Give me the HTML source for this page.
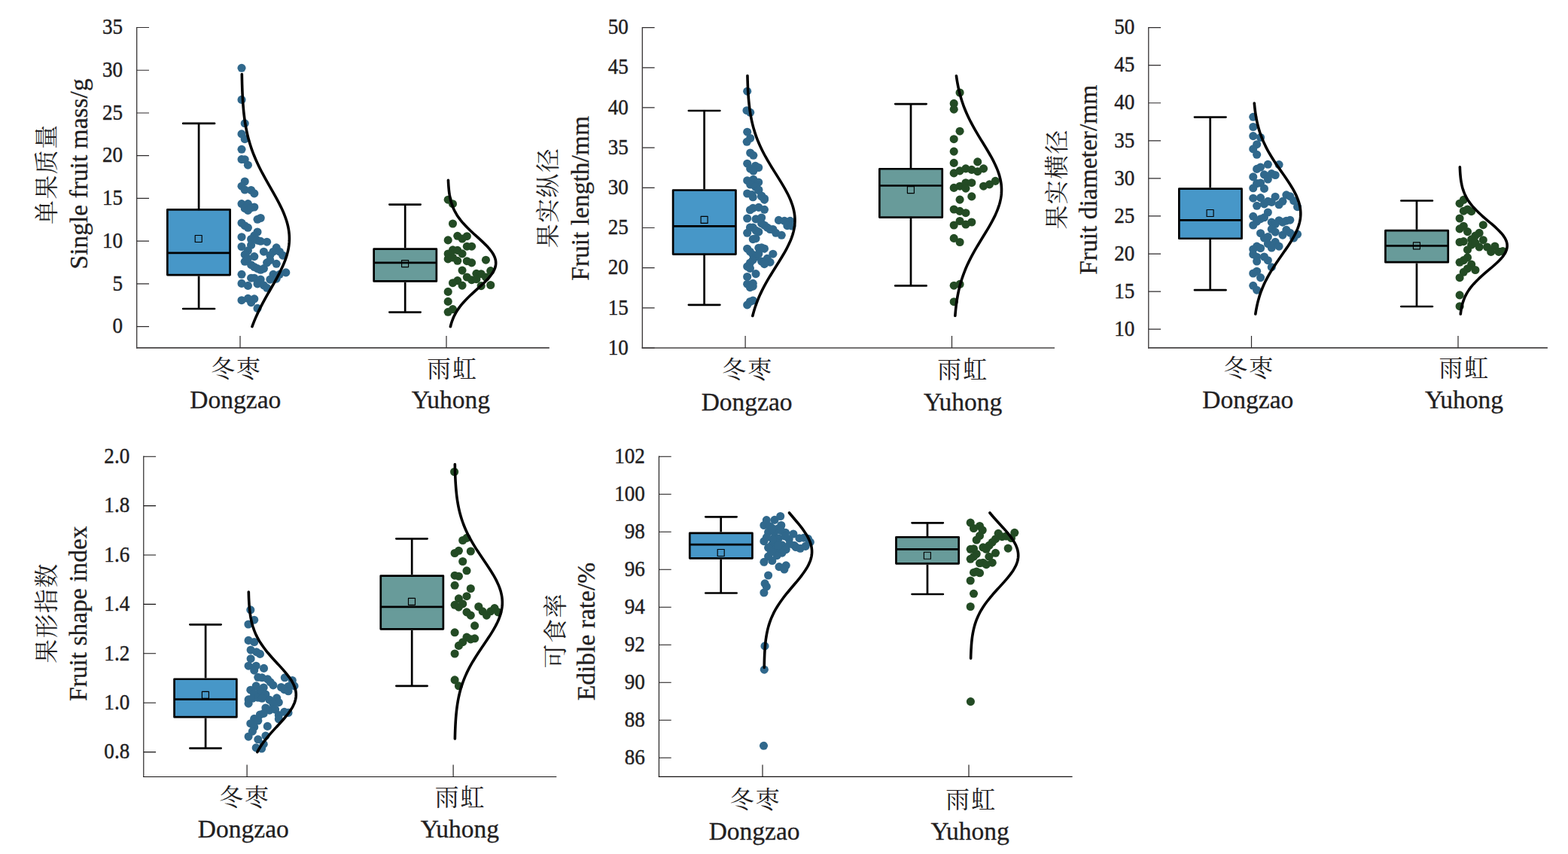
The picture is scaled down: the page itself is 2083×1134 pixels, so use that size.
<!DOCTYPE html>
<html><head><meta charset="utf-8"><title>chart</title>
<style>html,body{margin:0;padding:0;background:#fff}svg{display:block}text{font-family:"Liberation Serif","Noto Serif CJK SC",serif;fill:#221e1f}</style></head><body>
<svg width="2083" height="1134" viewBox="0 0 2083 1134">
<rect width="2083" height="1134" fill="#fff"/>
<g>
<path d="M181.7 35.9V462.7" fill="none" stroke="#2e2b2c" stroke-width="1.25"/>
<path d="M181.07 461.9H729.8" fill="none" stroke="#474445" stroke-width="1.6"/>
<path d="M181.7 433.6h16.3M181.7 376.88h16.3M181.7 320.15h16.3M181.7 263.43h16.3M181.7 206.7h16.3M181.7 149.98h16.3M181.7 93.25h16.3M181.7 36.52h16.3M319 461.9v-16M593 461.9v-16" fill="none" stroke="#2e2b2c" stroke-width="1.2"/>
<text transform="translate(163.1 442.3) scale(0.915 1)" font-size="29.6" text-anchor="end" stroke="#221e1f" stroke-width="0.45">0</text>
<text transform="translate(163.1 385.57) scale(0.915 1)" font-size="29.6" text-anchor="end" stroke="#221e1f" stroke-width="0.45">5</text>
<text transform="translate(163.1 328.85) scale(0.915 1)" font-size="29.6" text-anchor="end" stroke="#221e1f" stroke-width="0.45">10</text>
<text transform="translate(163.1 272.12) scale(0.915 1)" font-size="29.6" text-anchor="end" stroke="#221e1f" stroke-width="0.45">15</text>
<text transform="translate(163.1 215.4) scale(0.915 1)" font-size="29.6" text-anchor="end" stroke="#221e1f" stroke-width="0.45">20</text>
<text transform="translate(163.1 158.68) scale(0.915 1)" font-size="29.6" text-anchor="end" stroke="#221e1f" stroke-width="0.45">25</text>
<text transform="translate(163.1 101.95) scale(0.915 1)" font-size="29.6" text-anchor="end" stroke="#221e1f" stroke-width="0.45">30</text>
<text transform="translate(163.1 45.22) scale(0.915 1)" font-size="29.6" text-anchor="end" stroke="#221e1f" stroke-width="0.45">35</text>
<text transform="translate(61 232) rotate(-90)" x="-66" y="12.28" font-size="31.8" letter-spacing="1.6">单果质量</text>
<text transform="translate(115.6 230.9) rotate(-90)" font-size="33.5" text-anchor="middle" stroke="#221e1f" stroke-width="0.3">Single fruit mass/g</text>
<text x="280.15" y="500.57" font-size="31.8" letter-spacing="2.1">冬枣</text>
<text x="312.8" y="541.8" font-size="33.5" text-anchor="middle" stroke="#221e1f" stroke-width="0.3">Dongzao</text>
<text x="567.15" y="500.57" font-size="31.8" letter-spacing="2.1">雨虹</text>
<text x="598.8" y="541.8" font-size="33.5" text-anchor="middle" stroke="#221e1f" stroke-width="0.3">Yuhong</text>
<path d="M264.1 163.9V277M264.1 366.45V410" stroke="#000" stroke-width="2.7" fill="none"/>
<path d="M243.15 163.9H285.05M243.15 410H285.05" stroke="#000" stroke-width="2.7" stroke-linecap="round" fill="none"/>
<rect x="222.35" y="278.35" width="83.25" height="86.75" fill="#4797C8" stroke="#000" stroke-width="2.7" stroke-linejoin="round"/>
<path d="M222.35 335.9H305.6" stroke="#000" stroke-width="2.7"/>
<rect x="259.2" y="312.5" width="9" height="9" fill="none" stroke="#000" stroke-width="1.15" stroke-linejoin="round"/>
<path d="M538.2 271.6V329.2M538.2 374.8V414.6" stroke="#000" stroke-width="2.7" fill="none"/>
<path d="M517.35 271.6H558.65M517.35 414.6H558.65" stroke="#000" stroke-width="2.7" stroke-linecap="round" fill="none"/>
<rect x="496.65" y="330.55" width="83.2" height="42.9" fill="#689B9A" stroke="#000" stroke-width="2.7" stroke-linejoin="round"/>
<path d="M496.65 348.8H579.85" stroke="#000" stroke-width="2.7"/>
<rect x="533.6" y="345.6" width="9" height="9" fill="none" stroke="#000" stroke-width="1.15" stroke-linejoin="round"/>
<g fill="#30688C"><circle cx="321" cy="90.3" r="5.55"/><circle cx="321" cy="132.4" r="5.55"/><circle cx="325.2" cy="163.8" r="5.55"/><circle cx="321" cy="177.9" r="5.55"/><circle cx="325.2" cy="184.6" r="5.55"/><circle cx="321" cy="198.3" r="5.55"/><circle cx="321" cy="211.6" r="5.55"/><circle cx="325.2" cy="211.7" r="5.55"/><circle cx="329.4" cy="219.2" r="5.55"/><circle cx="325.2" cy="241" r="5.55"/><circle cx="321" cy="247.2" r="5.55"/><circle cx="325.2" cy="252" r="5.55"/><circle cx="333.6" cy="252.5" r="5.55"/><circle cx="337.8" cy="256.9" r="5.55"/><circle cx="321" cy="270.6" r="5.55"/><circle cx="329.4" cy="270.6" r="5.55"/><circle cx="325.2" cy="276.7" r="5.55"/><circle cx="329.4" cy="279.4" r="5.55"/><circle cx="337.8" cy="275" r="5.55"/><circle cx="333.6" cy="275.9" r="5.55"/><circle cx="342" cy="291.3" r="5.55"/><circle cx="346.2" cy="289.5" r="5.55"/><circle cx="321" cy="296.1" r="5.55"/><circle cx="325.2" cy="299.7" r="5.55"/><circle cx="329.4" cy="302.3" r="5.55"/><circle cx="321" cy="314.7" r="5.55"/><circle cx="342" cy="308" r="5.55"/><circle cx="337.8" cy="312.9" r="5.55"/><circle cx="333.6" cy="317.5" r="5.55"/><circle cx="342" cy="319.1" r="5.55"/><circle cx="346.2" cy="320.3" r="5.55"/><circle cx="354.6" cy="321.2" r="5.55"/><circle cx="321" cy="327.5" r="5.55"/><circle cx="333.6" cy="325.4" r="5.55"/><circle cx="329.4" cy="332.8" r="5.55"/><circle cx="325.2" cy="338.1" r="5.55"/><circle cx="337.8" cy="340.6" r="5.55"/><circle cx="350.4" cy="334.2" r="5.55"/><circle cx="367.2" cy="328.9" r="5.55"/><circle cx="363" cy="334.2" r="5.55"/><circle cx="371.4" cy="334.2" r="5.55"/><circle cx="375.6" cy="339.1" r="5.55"/><circle cx="358.8" cy="339.1" r="5.55"/><circle cx="325.2" cy="347.3" r="5.55"/><circle cx="333.6" cy="351.7" r="5.55"/><circle cx="337.8" cy="354.5" r="5.55"/><circle cx="342" cy="356.6" r="5.55"/><circle cx="346.2" cy="358.3" r="5.55"/><circle cx="350.4" cy="356.6" r="5.55"/><circle cx="354.6" cy="348.8" r="5.55"/><circle cx="358.8" cy="345.4" r="5.55"/><circle cx="367.2" cy="350.3" r="5.55"/><circle cx="321" cy="364.3" r="5.55"/><circle cx="379.8" cy="361.9" r="5.55"/><circle cx="363" cy="364.3" r="5.55"/><circle cx="371.4" cy="364.3" r="5.55"/><circle cx="367.2" cy="370.1" r="5.55"/><circle cx="358.8" cy="371.1" r="5.55"/><circle cx="321" cy="376.4" r="5.55"/><circle cx="329.4" cy="379.4" r="5.55"/><circle cx="333.6" cy="369.2" r="5.55"/><circle cx="337.8" cy="369.2" r="5.55"/><circle cx="346.2" cy="371.1" r="5.55"/><circle cx="342" cy="376.9" r="5.55"/><circle cx="350.4" cy="378.9" r="5.55"/><circle cx="354.6" cy="382.3" r="5.55"/><circle cx="321" cy="398.7" r="5.55"/><circle cx="329.4" cy="396.3" r="5.55"/><circle cx="333.6" cy="401.7" r="5.55"/><circle cx="337.8" cy="396.8" r="5.55"/><circle cx="342" cy="409.4" r="5.55"/><circle cx="329.4" cy="343.2" r="5.55"/></g>
<path d="M321.33 98.6L321.36 100.59L321.4 102.59L321.44 104.58L321.48 106.58L321.52 108.57L321.57 110.56L321.63 112.56L321.69 114.55L321.75 116.55L321.82 118.54L321.89 120.53L321.98 122.53L322.06 124.52L322.16 126.52L322.26 128.51L322.36 130.5L322.48 132.5L322.61 134.49L322.74 136.49L322.88 138.48L323.04 140.47L323.2 142.47L323.37 144.46L323.56 146.46L323.76 148.45L323.97 150.45L324.2 152.44L324.44 154.43L324.69 156.43L324.96 158.42L325.24 160.42L325.54 162.41L325.86 164.4L326.2 166.4L326.55 168.39L326.92 170.39L327.32 172.38L327.73 174.37L328.16 176.37L328.62 178.36L329.09 180.36L329.59 182.35L330.11 184.34L330.66 186.34L331.23 188.33L331.82 190.33L332.43 192.32L333.07 194.31L333.74 196.31L334.43 198.3L335.14 200.3L335.88 202.29L336.65 204.28L337.44 206.28L338.25 208.27L339.09 210.27L339.95 212.26L340.83 214.25L341.74 216.25L342.67 218.24L343.63 220.24L344.6 222.23L345.6 224.22L346.61 226.22L347.64 228.21L348.69 230.21L349.76 232.2L350.84 234.2L351.93 236.19L353.04 238.18L354.15 240.18L355.28 242.17L356.41 244.17L357.54 246.16L358.68 248.15L359.82 250.15L360.96 252.14L362.1 254.14L363.24 256.13L364.36 258.12L365.48 260.12L366.58 262.11L367.67 264.11L368.75 266.1L369.81 268.09L370.84 270.09L371.86 272.08L372.85 274.08L373.81 276.07L374.74 278.06L375.64 280.06L376.51 282.05L377.34 284.05L378.13 286.04L378.89 288.03L379.6 290.03L380.27 292.02L380.89 294.02L381.47 296.01L381.99 298L382.47 300L382.9 301.99L383.28 303.99L383.6 305.98L383.87 307.98L384.08 309.97L384.24 311.96L384.35 313.96L384.4 315.95L384.39 317.95L384.33 319.94L384.21 321.93L384.03 323.93L383.81 325.92L383.52 327.92L383.19 329.91L382.8 331.9L382.36 333.9L381.87 335.89L381.33 337.89L380.74 339.88L380.1 341.87L379.42 343.87L378.7 345.86L377.94 347.86L377.14 349.85L376.3 351.84L375.42 353.84L374.51 355.83L373.57 357.83L372.6 359.82L371.61 361.81L370.59 363.81L369.55 365.8L368.48 367.8L367.4 369.79L366.31 371.78L365.2 373.78L364.08 375.77L362.95 377.77L361.82 379.76L360.68 381.75L359.54 383.75L358.4 385.74L357.26 387.74L356.13 389.73L355 391.73L353.87 393.72L352.76 395.71L351.66 397.71L350.57 399.7L349.49 401.7L348.43 403.69L347.38 405.68L346.36 407.68L345.35 409.67L344.36 411.67L343.39 413.66L342.44 415.65L341.52 417.65L340.61 419.64L339.73 421.64L338.88 423.63L338.04 425.62L337.24 427.62L336.45 429.61L335.7 431.61L334.96 433.6" fill="none" stroke="#000" stroke-width="3.6" stroke-linecap="round" stroke-linejoin="round"/>
<g fill="#234B24"><circle cx="595.2" cy="265.2" r="5.55"/><circle cx="601.48" cy="270.7" r="5.55"/><circle cx="601.48" cy="297" r="5.55"/><circle cx="607.76" cy="313.3" r="5.55"/><circle cx="614.04" cy="317" r="5.55"/><circle cx="620.32" cy="313.7" r="5.55"/><circle cx="595.2" cy="318.9" r="5.55"/><circle cx="620.32" cy="327.2" r="5.55"/><circle cx="626.6" cy="327.2" r="5.55"/><circle cx="601.48" cy="331.9" r="5.55"/><circle cx="607.76" cy="332.4" r="5.55"/><circle cx="595.2" cy="337" r="5.55"/><circle cx="614.04" cy="336.9" r="5.55"/><circle cx="595.2" cy="343.9" r="5.55"/><circle cx="601.48" cy="342" r="5.55"/><circle cx="607.76" cy="346.3" r="5.55"/><circle cx="620.32" cy="346.7" r="5.55"/><circle cx="626.6" cy="348.9" r="5.55"/><circle cx="645.44" cy="345.2" r="5.55"/><circle cx="614.04" cy="359.1" r="5.55"/><circle cx="651.72" cy="359.6" r="5.55"/><circle cx="632.88" cy="363.3" r="5.55"/><circle cx="639.16" cy="363.7" r="5.55"/><circle cx="620.32" cy="368" r="5.55"/><circle cx="626.6" cy="371.7" r="5.55"/><circle cx="632.88" cy="370.7" r="5.55"/><circle cx="645.44" cy="368" r="5.55"/><circle cx="607.76" cy="372.6" r="5.55"/><circle cx="601.48" cy="375.7" r="5.55"/><circle cx="614.04" cy="379.1" r="5.55"/><circle cx="639.16" cy="379.6" r="5.55"/><circle cx="651.72" cy="378.5" r="5.55"/><circle cx="595.2" cy="387.4" r="5.55"/><circle cx="595.2" cy="400.4" r="5.55"/><circle cx="601.48" cy="410.6" r="5.55"/><circle cx="595.2" cy="414.3" r="5.55"/></g>
<path d="M595.45 239.3L595.53 241.28L595.64 243.27L595.75 245.25L595.89 247.23L596.05 249.22L596.24 251.2L596.45 253.19L596.69 255.17L596.97 257.15L597.28 259.14L597.64 261.12L598.04 263.1L598.49 265.09L599 267.07L599.56 269.06L600.19 271.04L600.88 273.02L601.65 275.01L602.49 276.99L603.41 278.97L604.42 280.96L605.51 282.94L606.68 284.92L607.95 286.91L609.31 288.89L610.76 290.88L612.31 292.86L613.94 294.84L615.66 296.83L617.46 298.81L619.34 300.79L621.3 302.78L623.32 304.76L625.39 306.74L627.52 308.73L629.68 310.71L631.86 312.7L634.06 314.68L636.25 316.66L638.42 318.65L640.56 320.63L642.66 322.61L644.69 324.6L646.63 326.58L648.48 328.57L650.22 330.55L651.83 332.53L653.3 334.52L654.62 336.5L655.77 338.48L656.74 340.47L657.52 342.45L658.11 344.43L658.5 346.42L658.68 348.4L658.66 350.39L658.44 352.37L658.01 354.35L657.38 356.34L656.56 358.32L655.56 360.3L654.37 362.29L653.03 364.27L651.53 366.26L649.89 368.24L648.13 370.22L646.26 372.21L644.3 374.19L642.25 376.17L640.15 378.16L638 380.14L635.82 382.12L633.63 384.11L631.43 386.09L629.25 388.08L627.1 390.06L624.98 392.04L622.92 394.03L620.91 396.01L618.97 397.99L617.1 399.98L615.32 401.96L613.61 403.94L612 405.93L610.47 407.91L609.04 409.9L607.7 411.88L606.45 413.86L605.29 415.85L604.21 417.83L603.23 419.81L602.32 421.8L601.49 423.78L600.74 425.77L600.06 427.75L599.45 429.73L598.89 431.72L598.4 433.7" fill="none" stroke="#000" stroke-width="3.6" stroke-linecap="round" stroke-linejoin="round"/>
</g>
<g>
<path d="M853.3 36V462.8" fill="none" stroke="#2e2b2c" stroke-width="1.25"/>
<path d="M852.67 462H1401" fill="none" stroke="#474445" stroke-width="1.6"/>
<path d="M853.3 462h16.3M853.3 408.82h16.3M853.3 355.65h16.3M853.3 302.48h16.3M853.3 249.3h16.3M853.3 196.12h16.3M853.3 142.95h16.3M853.3 89.78h16.3M853.3 36.6h16.3M990.1 462v-16M1264.5 462v-16" fill="none" stroke="#2e2b2c" stroke-width="1.2"/>
<text transform="translate(834.7 470.7) scale(0.915 1)" font-size="29.6" text-anchor="end" stroke="#221e1f" stroke-width="0.45">10</text>
<text transform="translate(834.7 417.52) scale(0.915 1)" font-size="29.6" text-anchor="end" stroke="#221e1f" stroke-width="0.45">15</text>
<text transform="translate(834.7 364.35) scale(0.915 1)" font-size="29.6" text-anchor="end" stroke="#221e1f" stroke-width="0.45">20</text>
<text transform="translate(834.7 311.18) scale(0.915 1)" font-size="29.6" text-anchor="end" stroke="#221e1f" stroke-width="0.45">25</text>
<text transform="translate(834.7 258) scale(0.915 1)" font-size="29.6" text-anchor="end" stroke="#221e1f" stroke-width="0.45">30</text>
<text transform="translate(834.7 204.82) scale(0.915 1)" font-size="29.6" text-anchor="end" stroke="#221e1f" stroke-width="0.45">35</text>
<text transform="translate(834.7 151.65) scale(0.915 1)" font-size="29.6" text-anchor="end" stroke="#221e1f" stroke-width="0.45">40</text>
<text transform="translate(834.7 98.48) scale(0.915 1)" font-size="29.6" text-anchor="end" stroke="#221e1f" stroke-width="0.45">45</text>
<text transform="translate(834.7 45.3) scale(0.915 1)" font-size="29.6" text-anchor="end" stroke="#221e1f" stroke-width="0.45">50</text>
<text transform="translate(727 263.2) rotate(-90)" x="-66" y="12.28" font-size="31.8" letter-spacing="1.6">果实纵径</text>
<text transform="translate(781.8 263.4) rotate(-90)" font-size="33.5" text-anchor="middle" stroke="#221e1f" stroke-width="0.3">Fruit length/mm</text>
<text x="959.25" y="502.47" font-size="31.8" letter-spacing="2.1">冬枣</text>
<text x="992.1" y="545.4" font-size="33.5" text-anchor="middle" stroke="#221e1f" stroke-width="0.3">Dongzao</text>
<text x="1245.25" y="502.47" font-size="31.8" letter-spacing="2.1">雨虹</text>
<text x="1279.1" y="545.4" font-size="33.5" text-anchor="middle" stroke="#221e1f" stroke-width="0.3">Yuhong</text>
<path d="M935.6 147V251.15M935.6 338.9V404.8" stroke="#000" stroke-width="2.7" fill="none"/>
<path d="M914.85 147H956.35M914.85 404.8H956.35" stroke="#000" stroke-width="2.7" stroke-linecap="round" fill="none"/>
<rect x="894.1" y="252.5" width="83.35" height="85.05" fill="#4797C8" stroke="#000" stroke-width="2.7" stroke-linejoin="round"/>
<path d="M894.1 300.3H977.45" stroke="#000" stroke-width="2.7"/>
<rect x="931.1" y="287.4" width="9" height="9" fill="none" stroke="#000" stroke-width="1.15" stroke-linejoin="round"/>
<path d="M1210 138.05V222.9M1210 289.9V379.4" stroke="#000" stroke-width="2.7" fill="none"/>
<path d="M1189.25 138.05H1230.65M1189.25 379.4H1230.65" stroke="#000" stroke-width="2.7" stroke-linecap="round" fill="none"/>
<rect x="1168.35" y="224.25" width="83.4" height="64.3" fill="#689B9A" stroke="#000" stroke-width="2.7" stroke-linejoin="round"/>
<path d="M1168.35 246.5H1251.75" stroke="#000" stroke-width="2.7"/>
<rect x="1205.4" y="247.6" width="9" height="9" fill="none" stroke="#000" stroke-width="1.15" stroke-linejoin="round"/>
<g fill="#30688C"><circle cx="992.7" cy="121.2" r="5.55"/><circle cx="992" cy="146.7" r="5.55"/><circle cx="996.7" cy="149.3" r="5.55"/><circle cx="992.7" cy="175.2" r="5.55"/><circle cx="996.7" cy="183.5" r="5.55"/><circle cx="992.2" cy="188.3" r="5.55"/><circle cx="996.7" cy="203" r="5.55"/><circle cx="1000.8" cy="206.3" r="5.55"/><circle cx="992.7" cy="217.2" r="5.55"/><circle cx="996.7" cy="224" r="5.55"/><circle cx="1003.5" cy="220.2" r="5.55"/><circle cx="1007.7" cy="222.5" r="5.55"/><circle cx="1000.8" cy="227" r="5.55"/><circle cx="992.7" cy="239.7" r="5.55"/><circle cx="1000.8" cy="238.2" r="5.55"/><circle cx="1007.7" cy="242" r="5.55"/><circle cx="996.7" cy="245" r="5.55"/><circle cx="1003.5" cy="248" r="5.55"/><circle cx="992.7" cy="257" r="5.55"/><circle cx="1007.7" cy="252.5" r="5.55"/><circle cx="999" cy="258.5" r="5.55"/><circle cx="1011.7" cy="260" r="5.55"/><circle cx="1015.5" cy="263.7" r="5.55"/><circle cx="1007.85" cy="252.1" r="5.55"/><circle cx="1000.25" cy="261.8" r="5.55"/><circle cx="1011.65" cy="260.9" r="5.55"/><circle cx="1015.45" cy="265.2" r="5.55"/><circle cx="996.45" cy="278.8" r="5.55"/><circle cx="1000.25" cy="276.4" r="5.55"/><circle cx="1007.85" cy="275.4" r="5.55"/><circle cx="1015.45" cy="278.3" r="5.55"/><circle cx="992.65" cy="290" r="5.55"/><circle cx="1004.05" cy="290.9" r="5.55"/><circle cx="1011.65" cy="289" r="5.55"/><circle cx="1034.45" cy="292.4" r="5.55"/><circle cx="1042.05" cy="293.3" r="5.55"/><circle cx="1049.65" cy="293.3" r="5.55"/><circle cx="1045.85" cy="299.7" r="5.55"/><circle cx="1051.93" cy="300" r="5.55"/><circle cx="1011.65" cy="296.7" r="5.55"/><circle cx="1015.45" cy="299.2" r="5.55"/><circle cx="1019.25" cy="302.1" r="5.55"/><circle cx="1023.05" cy="304.5" r="5.55"/><circle cx="1026.85" cy="304.5" r="5.55"/><circle cx="1030.65" cy="309.3" r="5.55"/><circle cx="1038.25" cy="312.3" r="5.55"/><circle cx="996.45" cy="302.1" r="5.55"/><circle cx="1000.25" cy="302.1" r="5.55"/><circle cx="1004.05" cy="306" r="5.55"/><circle cx="1007.85" cy="307.9" r="5.55"/><circle cx="992.65" cy="309.3" r="5.55"/><circle cx="1000.25" cy="317.6" r="5.55"/><circle cx="1004.05" cy="316.6" r="5.55"/><circle cx="992.65" cy="330.2" r="5.55"/><circle cx="996.45" cy="334.2" r="5.55"/><circle cx="1000.25" cy="338.2" r="5.55"/><circle cx="1007.85" cy="329.2" r="5.55"/><circle cx="1011.65" cy="328.7" r="5.55"/><circle cx="1015.45" cy="330.2" r="5.55"/><circle cx="1004.05" cy="340.9" r="5.55"/><circle cx="1007.85" cy="337" r="5.55"/><circle cx="1026.85" cy="337.2" r="5.55"/><circle cx="1019.25" cy="343.3" r="5.55"/><circle cx="1023.05" cy="348.2" r="5.55"/><circle cx="1011.65" cy="347" r="5.55"/><circle cx="1015.45" cy="350.6" r="5.55"/><circle cx="1000.25" cy="345.2" r="5.55"/><circle cx="996.45" cy="349.1" r="5.55"/><circle cx="992.65" cy="353.9" r="5.55"/><circle cx="996.45" cy="356.4" r="5.55"/><circle cx="1004.05" cy="363.6" r="5.55"/><circle cx="992.65" cy="367.5" r="5.55"/><circle cx="992.65" cy="377.2" r="5.55"/><circle cx="1000.25" cy="376.3" r="5.55"/><circle cx="996.45" cy="381.6" r="5.55"/><circle cx="1000.25" cy="380.1" r="5.55"/><circle cx="992.65" cy="404.9" r="5.55"/><circle cx="996.45" cy="400.5" r="5.55"/><circle cx="1000.25" cy="399" r="5.55"/></g>
<path d="M992.96 100.6L993.01 102.59L993.06 104.59L993.12 106.58L993.18 108.57L993.25 110.57L993.33 112.56L993.41 114.55L993.5 116.54L993.6 118.54L993.71 120.53L993.83 122.52L993.95 124.52L994.09 126.51L994.23 128.5L994.39 130.5L994.56 132.49L994.74 134.48L994.94 136.48L995.15 138.47L995.37 140.46L995.61 142.46L995.87 144.45L996.15 146.44L996.44 148.44L996.75 150.43L997.09 152.42L997.44 154.41L997.81 156.41L998.21 158.4L998.63 160.39L999.08 162.39L999.55 164.38L1000.04 166.37L1000.56 168.37L1001.11 170.36L1001.69 172.35L1002.29 174.35L1002.92 176.34L1003.58 178.33L1004.27 180.32L1004.99 182.32L1005.74 184.31L1006.52 186.3L1007.33 188.3L1008.17 190.29L1009.04 192.28L1009.94 194.28L1010.87 196.27L1011.83 198.26L1012.82 200.26L1013.83 202.25L1014.87 204.24L1015.94 206.24L1017.03 208.23L1018.15 210.22L1019.28 212.21L1020.44 214.21L1021.62 216.2L1022.81 218.19L1024.02 220.19L1025.25 222.18L1026.48 224.17L1027.72 226.17L1028.97 228.16L1030.23 230.15L1031.49 232.15L1032.74 234.14L1033.99 236.13L1035.24 238.13L1036.47 240.12L1037.7 242.11L1038.9 244.1L1040.09 246.1L1041.26 248.09L1042.4 250.08L1043.52 252.08L1044.6 254.07L1045.66 256.06L1046.67 258.06L1047.65 260.05L1048.58 262.04L1049.47 264.04L1050.31 266.03L1051.1 268.02L1051.84 270.02L1052.53 272.01L1053.16 274L1053.72 276L1054.23 277.99L1054.68 279.98L1055.06 281.97L1055.38 283.97L1055.64 285.96L1055.82 287.95L1055.94 289.95L1056 291.94L1055.98 293.93L1055.9 295.93L1055.75 297.92L1055.53 299.91L1055.25 301.91L1054.9 303.9L1054.49 305.89L1054.02 307.88L1053.48 309.88L1052.89 311.87L1052.23 313.86L1051.53 315.86L1050.76 317.85L1049.95 319.84L1049.09 321.84L1048.18 323.83L1047.22 325.82L1046.23 327.82L1045.2 329.81L1044.13 331.8L1043.03 333.8L1041.91 335.79L1040.75 337.78L1039.57 339.77L1038.38 341.77L1037.16 343.76L1035.93 345.75L1034.69 347.75L1033.44 349.74L1032.19 351.73L1030.93 353.73L1029.68 355.72L1028.43 357.71L1027.18 359.71L1025.94 361.7L1024.71 363.69L1023.49 365.69L1022.29 367.68L1021.1 369.67L1019.93 371.66L1018.78 373.66L1017.65 375.65L1016.55 377.64L1015.47 379.64L1014.41 381.63L1013.38 383.62L1012.38 385.62L1011.41 387.61L1010.46 389.6L1009.54 391.6L1008.66 393.59L1007.8 395.58L1006.97 397.58L1006.18 399.57L1005.41 401.56L1004.67 403.55L1003.97 405.55L1003.29 407.54L1002.64 409.53L1002.02 411.53L1001.43 413.52L1000.87 415.51L1000.33 417.51L999.82 419.5" fill="none" stroke="#000" stroke-width="3.6" stroke-linecap="round" stroke-linejoin="round"/>
<g fill="#234B24"><circle cx="1275.07" cy="123" r="5.55"/><circle cx="1267.2" cy="137.4" r="5.55"/><circle cx="1267.2" cy="145.2" r="5.55"/><circle cx="1275.07" cy="174.2" r="5.55"/><circle cx="1267.2" cy="184.7" r="5.55"/><circle cx="1267.2" cy="201.1" r="5.55"/><circle cx="1267.2" cy="216.4" r="5.55"/><circle cx="1298.68" cy="214.9" r="5.55"/><circle cx="1267.2" cy="229.9" r="5.55"/><circle cx="1275.07" cy="226.9" r="5.55"/><circle cx="1282.94" cy="223.9" r="5.55"/><circle cx="1290.81" cy="225.4" r="5.55"/><circle cx="1298.68" cy="227.7" r="5.55"/><circle cx="1306.55" cy="223.9" r="5.55"/><circle cx="1267.2" cy="249.4" r="5.55"/><circle cx="1275.07" cy="247.2" r="5.55"/><circle cx="1282.94" cy="242.7" r="5.55"/><circle cx="1290.81" cy="242.7" r="5.55"/><circle cx="1282.94" cy="250.2" r="5.55"/><circle cx="1306.55" cy="247.2" r="5.55"/><circle cx="1314.42" cy="244.9" r="5.55"/><circle cx="1322.29" cy="240.4" r="5.55"/><circle cx="1290.81" cy="260.9" r="5.55"/><circle cx="1275.07" cy="265.1" r="5.55"/><circle cx="1267.2" cy="278" r="5.55"/><circle cx="1275.07" cy="280.4" r="5.55"/><circle cx="1282.94" cy="282.7" r="5.55"/><circle cx="1275.07" cy="293.5" r="5.55"/><circle cx="1290.81" cy="295" r="5.55"/><circle cx="1282.94" cy="298" r="5.55"/><circle cx="1267.2" cy="299" r="5.55"/><circle cx="1267.2" cy="316.4" r="5.55"/><circle cx="1275.07" cy="321.5" r="5.55"/><circle cx="1267.2" cy="379.2" r="5.55"/><circle cx="1275.07" cy="377.4" r="5.55"/><circle cx="1267.2" cy="400.7" r="5.55"/></g>
<path d="M1270.46 100.7L1270.73 102.69L1271.02 104.68L1271.33 106.67L1271.66 108.67L1272.01 110.66L1272.38 112.65L1272.77 114.64L1273.18 116.63L1273.61 118.62L1274.07 120.61L1274.55 122.6L1275.06 124.59L1275.59 126.59L1276.15 128.58L1276.73 130.57L1277.34 132.56L1277.98 134.55L1278.65 136.54L1279.34 138.53L1280.06 140.53L1280.82 142.52L1281.6 144.51L1282.4 146.5L1283.24 148.49L1284.1 150.48L1285 152.47L1285.92 154.46L1286.86 156.46L1287.84 158.45L1288.83 160.44L1289.86 162.43L1290.91 164.42L1291.98 166.41L1293.07 168.4L1294.18 170.39L1295.32 172.38L1296.46 174.38L1297.63 176.37L1298.81 178.36L1300 180.35L1301.2 182.34L1302.41 184.33L1303.63 186.32L1304.85 188.31L1306.07 190.31L1307.29 192.3L1308.51 194.29L1309.72 196.28L1310.92 198.27L1312.11 200.26L1313.28 202.25L1314.44 204.25L1315.58 206.24L1316.69 208.23L1317.78 210.22L1318.85 212.21L1319.88 214.2L1320.87 216.19L1321.84 218.18L1322.76 220.18L1323.64 222.17L1324.47 224.16L1325.26 226.15L1326.01 228.14L1326.7 230.13L1327.34 232.12L1327.92 234.11L1328.45 236.11L1328.92 238.1L1329.33 240.09L1329.68 242.08L1329.97 244.07L1330.2 246.06L1330.36 248.05L1330.46 250.04L1330.5 252.04L1330.47 254.03L1330.38 256.02L1330.23 258.01L1330.01 260L1329.73 261.99L1329.39 263.98L1328.99 265.97L1328.53 267.97L1328.01 269.96L1327.44 271.95L1326.81 273.94L1326.12 275.93L1325.39 277.92L1324.61 279.91L1323.78 281.9L1322.91 283.89L1321.99 285.89L1321.04 287.88L1320.05 289.87L1319.02 291.86L1317.96 293.85L1316.88 295.84L1315.77 297.83L1314.63 299.83L1313.48 301.82L1312.3 303.81L1311.12 305.8L1309.92 307.79L1308.71 309.78L1307.49 311.77L1306.27 313.76L1305.05 315.75L1303.83 317.75L1302.61 319.74L1301.4 321.73L1300.2 323.72L1299.01 325.71L1297.82 327.7L1296.66 329.69L1295.5 331.69L1294.37 333.68L1293.25 335.67L1292.16 337.66L1291.08 339.65L1290.03 341.64L1289 343.63L1288 345.62L1287.02 347.62L1286.07 349.61L1285.15 351.6L1284.25 353.59L1283.38 355.58L1282.54 357.57L1281.73 359.56L1280.94 361.55L1280.19 363.55L1279.46 365.54L1278.76 367.53L1278.09 369.52L1277.45 371.51L1276.83 373.5L1276.24 375.49L1275.68 377.48L1275.14 379.47L1274.63 381.47L1274.15 383.46L1273.69 385.45L1273.25 387.44L1272.83 389.43L1272.44 391.42L1272.07 393.41L1271.72 395.41L1271.39 397.4L1271.07 399.39L1270.78 401.38L1270.5 403.37L1270.24 405.36L1270 407.35L1269.77 409.34L1269.56 411.34L1269.36 413.33L1269.18 415.32L1269 417.31L1268.84 419.3" fill="none" stroke="#000" stroke-width="3.6" stroke-linecap="round" stroke-linejoin="round"/>
</g>
<g>
<path d="M1525.8 36V462.7" fill="none" stroke="#2e2b2c" stroke-width="1.25"/>
<path d="M1525.17 461.9H2055.9" fill="none" stroke="#474445" stroke-width="1.6"/>
<path d="M1525.8 437.2h16.3M1525.8 387.12h16.3M1525.8 337.05h16.3M1525.8 286.97h16.3M1525.8 236.9h16.3M1525.8 186.82h16.3M1525.8 136.75h16.3M1525.8 86.67h16.3M1525.8 36.6h16.3M1662.5 461.9v-16M1937 461.9v-16" fill="none" stroke="#2e2b2c" stroke-width="1.2"/>
<text transform="translate(1507.2 445.9) scale(0.915 1)" font-size="29.6" text-anchor="end" stroke="#221e1f" stroke-width="0.45">10</text>
<text transform="translate(1507.2 395.82) scale(0.915 1)" font-size="29.6" text-anchor="end" stroke="#221e1f" stroke-width="0.45">15</text>
<text transform="translate(1507.2 345.75) scale(0.915 1)" font-size="29.6" text-anchor="end" stroke="#221e1f" stroke-width="0.45">20</text>
<text transform="translate(1507.2 295.67) scale(0.915 1)" font-size="29.6" text-anchor="end" stroke="#221e1f" stroke-width="0.45">25</text>
<text transform="translate(1507.2 245.6) scale(0.915 1)" font-size="29.6" text-anchor="end" stroke="#221e1f" stroke-width="0.45">30</text>
<text transform="translate(1507.2 195.52) scale(0.915 1)" font-size="29.6" text-anchor="end" stroke="#221e1f" stroke-width="0.45">35</text>
<text transform="translate(1507.2 145.45) scale(0.915 1)" font-size="29.6" text-anchor="end" stroke="#221e1f" stroke-width="0.45">40</text>
<text transform="translate(1507.2 95.37) scale(0.915 1)" font-size="29.6" text-anchor="end" stroke="#221e1f" stroke-width="0.45">45</text>
<text transform="translate(1507.2 45.3) scale(0.915 1)" font-size="29.6" text-anchor="end" stroke="#221e1f" stroke-width="0.45">50</text>
<text transform="translate(1403 238.6) rotate(-90)" x="-66" y="12.28" font-size="31.8" letter-spacing="1.6">果实横径</text>
<text transform="translate(1457 238.7) rotate(-90)" font-size="33.5" text-anchor="middle" stroke="#221e1f" stroke-width="0.3">Fruit diameter/mm</text>
<text x="1625.45" y="500.27" font-size="31.8" letter-spacing="2.1">冬枣</text>
<text x="1657.8" y="542.2" font-size="33.5" text-anchor="middle" stroke="#221e1f" stroke-width="0.3">Dongzao</text>
<text x="1911.45" y="500.27" font-size="31.8" letter-spacing="2.1">雨虹</text>
<text x="1945" y="542.2" font-size="33.5" text-anchor="middle" stroke="#221e1f" stroke-width="0.3">Yuhong</text>
<path d="M1607.7 155.6V249.2M1607.7 318.1V385.2" stroke="#000" stroke-width="2.7" fill="none"/>
<path d="M1586.95 155.6H1628.55M1586.95 385.2H1628.55" stroke="#000" stroke-width="2.7" stroke-linecap="round" fill="none"/>
<rect x="1566.35" y="250.55" width="83.2" height="66.2" fill="#4797C8" stroke="#000" stroke-width="2.7" stroke-linejoin="round"/>
<path d="M1566.35 292.4H1649.55" stroke="#000" stroke-width="2.7"/>
<rect x="1603.1" y="278.5" width="9" height="9" fill="none" stroke="#000" stroke-width="1.15" stroke-linejoin="round"/>
<path d="M1882 266.5V304.8M1882 349.5V407" stroke="#000" stroke-width="2.7" fill="none"/>
<path d="M1861.35 266.5H1902.95M1861.35 407H1902.95" stroke="#000" stroke-width="2.7" stroke-linecap="round" fill="none"/>
<rect x="1840.45" y="306.15" width="83.3" height="42" fill="#689B9A" stroke="#000" stroke-width="2.7" stroke-linejoin="round"/>
<path d="M1840.45 326.4H1923.75" stroke="#000" stroke-width="2.7"/>
<rect x="1877.45" y="321.8" width="9" height="9" fill="none" stroke="#000" stroke-width="1.15" stroke-linejoin="round"/>
<g fill="#30688C"><circle cx="1664.75" cy="155.3" r="5.55"/><circle cx="1664.75" cy="168.5" r="5.55"/><circle cx="1664.75" cy="180.6" r="5.55"/><circle cx="1674.55" cy="182.5" r="5.55"/><circle cx="1669.65" cy="191.7" r="5.55"/><circle cx="1664.75" cy="197.9" r="5.55"/><circle cx="1669.65" cy="205.3" r="5.55"/><circle cx="1684.35" cy="218.3" r="5.55"/><circle cx="1699.05" cy="218.6" r="5.55"/><circle cx="1674.55" cy="222" r="5.55"/><circle cx="1669.65" cy="224.4" r="5.55"/><circle cx="1664.75" cy="234.9" r="5.55"/><circle cx="1679.45" cy="231.9" r="5.55"/><circle cx="1689.25" cy="230.6" r="5.55"/><circle cx="1694.15" cy="232.5" r="5.55"/><circle cx="1684.35" cy="238" r="5.55"/><circle cx="1669.65" cy="243.6" r="5.55"/><circle cx="1674.55" cy="243" r="5.55"/><circle cx="1664.75" cy="249.8" r="5.55"/><circle cx="1679.45" cy="250.4" r="5.55"/><circle cx="1664.75" cy="263.2" r="5.55"/><circle cx="1674.55" cy="262.6" r="5.55"/><circle cx="1669.65" cy="273.3" r="5.55"/><circle cx="1679.45" cy="270.9" r="5.55"/><circle cx="1684.35" cy="267.3" r="5.55"/><circle cx="1689.25" cy="268.4" r="5.55"/><circle cx="1694.15" cy="261.2" r="5.55"/><circle cx="1699.05" cy="271.8" r="5.55"/><circle cx="1703.95" cy="267.3" r="5.55"/><circle cx="1708.85" cy="258.8" r="5.55"/><circle cx="1713.75" cy="260.7" r="5.55"/><circle cx="1718.65" cy="266.5" r="5.55"/><circle cx="1723.55" cy="274.7" r="5.55"/><circle cx="1684.35" cy="282" r="5.55"/><circle cx="1664.75" cy="287.3" r="5.55"/><circle cx="1674.55" cy="290.7" r="5.55"/><circle cx="1679.45" cy="288.8" r="5.55"/><circle cx="1669.65" cy="294.1" r="5.55"/><circle cx="1664.75" cy="299" r="5.55"/><circle cx="1689.25" cy="295.1" r="5.55"/><circle cx="1699.05" cy="292.7" r="5.55"/><circle cx="1694.15" cy="297.5" r="5.55"/><circle cx="1703.95" cy="295.1" r="5.55"/><circle cx="1708.85" cy="293.2" r="5.55"/><circle cx="1713.75" cy="292.2" r="5.55"/><circle cx="1689.25" cy="304.3" r="5.55"/><circle cx="1694.15" cy="308.2" r="5.55"/><circle cx="1674.55" cy="309.7" r="5.55"/><circle cx="1679.45" cy="316" r="5.55"/><circle cx="1684.35" cy="314.5" r="5.55"/><circle cx="1703.95" cy="312.1" r="5.55"/><circle cx="1708.85" cy="305.3" r="5.55"/><circle cx="1713.75" cy="309.2" r="5.55"/><circle cx="1718.65" cy="316" r="5.55"/><circle cx="1723.55" cy="311.1" r="5.55"/><circle cx="1694.15" cy="321.3" r="5.55"/><circle cx="1684.35" cy="323.7" r="5.55"/><circle cx="1689.25" cy="329" r="5.55"/><circle cx="1699.05" cy="327.1" r="5.55"/><circle cx="1669.65" cy="327.1" r="5.55"/><circle cx="1664.75" cy="331" r="5.55"/><circle cx="1674.55" cy="329.5" r="5.55"/><circle cx="1664.75" cy="337.8" r="5.55"/><circle cx="1669.65" cy="341.2" r="5.55"/><circle cx="1679.45" cy="341" r="5.55"/><circle cx="1684.35" cy="345.7" r="5.55"/><circle cx="1669.65" cy="347" r="5.55"/><circle cx="1689.25" cy="354.7" r="5.55"/><circle cx="1669.65" cy="360.2" r="5.55"/><circle cx="1664.75" cy="363" r="5.55"/><circle cx="1674.55" cy="368.6" r="5.55"/><circle cx="1664.75" cy="379.3" r="5.55"/><circle cx="1669.65" cy="385.2" r="5.55"/></g>
<path d="M1666.28 137L1666.46 138.99L1666.66 140.97L1666.87 142.96L1667.1 144.94L1667.34 146.93L1667.61 148.91L1667.89 150.9L1668.2 152.89L1668.53 154.87L1668.89 156.86L1669.27 158.84L1669.67 160.83L1670.11 162.82L1670.57 164.8L1671.06 166.79L1671.58 168.77L1672.13 170.76L1672.71 172.74L1673.33 174.73L1673.98 176.72L1674.67 178.7L1675.39 180.69L1676.14 182.67L1676.94 184.66L1677.77 186.65L1678.63 188.63L1679.54 190.62L1680.48 192.6L1681.46 194.59L1682.47 196.57L1683.52 198.56L1684.6 200.55L1685.72 202.53L1686.87 204.52L1688.05 206.5L1689.27 208.49L1690.51 210.48L1691.78 212.46L1693.07 214.45L1694.38 216.43L1695.72 218.42L1697.07 220.4L1698.43 222.39L1699.81 224.38L1701.19 226.36L1702.58 228.35L1703.97 230.33L1705.35 232.32L1706.73 234.3L1708.1 236.29L1709.45 238.28L1710.79 240.26L1712.1 242.25L1713.39 244.23L1714.64 246.22L1715.86 248.21L1717.04 250.19L1718.18 252.18L1719.27 254.16L1720.31 256.15L1721.3 258.13L1722.22 260.12L1723.09 262.11L1723.89 264.09L1724.62 266.08L1725.28 268.06L1725.87 270.05L1726.39 272.04L1726.82 274.02L1727.18 276.01L1727.46 277.99L1727.65 279.98L1727.77 281.96L1727.8 283.95L1727.75 285.94L1727.61 287.92L1727.4 289.91L1727.1 291.89L1726.72 293.88L1726.26 295.87L1725.73 297.85L1725.12 299.84L1724.44 301.82L1723.69 303.81L1722.88 305.79L1721.99 307.78L1721.05 309.77L1720.05 311.75L1719 313.74L1717.9 315.72L1716.75 317.71L1715.56 319.7L1714.33 321.68L1713.06 323.67L1711.77 325.65L1710.45 327.64L1709.11 329.62L1707.75 331.61L1706.38 333.6L1705 335.58L1703.62 337.57L1702.23 339.55L1700.84 341.54L1699.46 343.52L1698.09 345.51L1696.72 347.5L1695.38 349.48L1694.05 351.47L1692.74 353.45L1691.45 355.44L1690.19 357.43L1688.96 359.41L1687.75 361.4L1686.58 363.38L1685.43 365.37L1684.33 367.35L1683.25 369.34L1682.21 371.33L1681.21 373.31L1680.24 375.3L1679.31 377.28L1678.41 379.27L1677.55 381.26L1676.73 383.24L1675.95 385.23L1675.2 387.21L1674.49 389.2L1673.81 391.18L1673.17 393.17L1672.56 395.16L1671.99 397.14L1671.44 399.13L1670.93 401.11L1670.45 403.1L1669.99 405.09L1669.57 407.07L1669.17 409.06L1668.8 411.04L1668.45 413.03L1668.12 415.01L1667.82 417" fill="none" stroke="#000" stroke-width="3.6" stroke-linecap="round" stroke-linejoin="round"/>
<g fill="#234B24"><circle cx="1944.3" cy="265.4" r="5.55"/><circle cx="1939.1" cy="270.2" r="5.55"/><circle cx="1944.3" cy="280.2" r="5.55"/><circle cx="1949.5" cy="278" r="5.55"/><circle cx="1954.7" cy="280.7" r="5.55"/><circle cx="1939.1" cy="290" r="5.55"/><circle cx="1970.3" cy="298.7" r="5.55"/><circle cx="1944.3" cy="300.2" r="5.55"/><circle cx="1939.1" cy="303.9" r="5.55"/><circle cx="1949.5" cy="307.6" r="5.55"/><circle cx="1965.1" cy="309.4" r="5.55"/><circle cx="1959.9" cy="313.1" r="5.55"/><circle cx="1954.7" cy="317.8" r="5.55"/><circle cx="1939.1" cy="321.5" r="5.55"/><circle cx="1944.3" cy="320.6" r="5.55"/><circle cx="1970.3" cy="318.7" r="5.55"/><circle cx="1954.7" cy="325.2" r="5.55"/><circle cx="1959.9" cy="322.4" r="5.55"/><circle cx="1965.1" cy="328" r="5.55"/><circle cx="1949.5" cy="331.7" r="5.55"/><circle cx="1975.5" cy="328" r="5.55"/><circle cx="1985.9" cy="327" r="5.55"/><circle cx="1980.7" cy="334.4" r="5.55"/><circle cx="1991.1" cy="334.4" r="5.55"/><circle cx="1996.3" cy="333.5" r="5.55"/><circle cx="1949.5" cy="341.9" r="5.55"/><circle cx="1944.3" cy="345.6" r="5.55"/><circle cx="1939.1" cy="348.3" r="5.55"/><circle cx="1954.7" cy="351.1" r="5.55"/><circle cx="1949.5" cy="356.7" r="5.55"/><circle cx="1959.9" cy="358.5" r="5.55"/><circle cx="1944.3" cy="361.3" r="5.55"/><circle cx="1939.1" cy="368.7" r="5.55"/><circle cx="1939.1" cy="391.9" r="5.55"/><circle cx="1939.1" cy="406.7" r="5.55"/></g>
<path d="M1939.36 221.8L1939.44 223.79L1939.53 225.78L1939.64 227.78L1939.77 229.77L1939.92 231.76L1940.1 233.75L1940.3 235.74L1940.54 237.73L1940.82 239.73L1941.14 241.72L1941.5 243.71L1941.92 245.7L1942.39 247.69L1942.93 249.69L1943.53 251.68L1944.2 253.67L1944.96 255.66L1945.79 257.65L1946.71 259.64L1947.73 261.64L1948.85 263.63L1950.06 265.62L1951.38 267.61L1952.8 269.6L1954.33 271.6L1955.96 273.59L1957.7 275.58L1959.54 277.57L1961.47 279.56L1963.5 281.56L1965.6 283.55L1967.78 285.54L1970.03 287.53L1972.32 289.52L1974.64 291.51L1976.99 293.51L1979.33 295.5L1981.67 297.49L1983.96 299.48L1986.21 301.47L1988.38 303.47L1990.45 305.46L1992.41 307.45L1994.24 309.44L1995.92 311.43L1997.43 313.42L1998.75 315.42L1999.88 317.41L2000.79 319.4L2001.48 321.39L2001.95 323.38L2002.17 325.38L2002.17 327.37L2001.92 329.36L2001.44 331.35L2000.73 333.34L1999.8 335.33L1998.67 337.33L1997.33 339.32L1995.81 341.31L1994.12 343.3L1992.28 345.29L1990.31 347.29L1988.22 349.28L1986.05 351.27L1983.8 353.26L1981.5 355.25L1979.17 357.24L1976.82 359.24L1974.47 361.23L1972.15 363.22L1969.86 365.21L1967.63 367.2L1965.45 369.2L1963.35 371.19L1961.33 373.18L1959.4 375.17L1957.57 377.16L1955.84 379.16L1954.22 381.15L1952.69 383.14L1951.28 385.13L1949.97 387.12L1948.76 389.11L1947.66 391.11L1946.65 393.1L1945.73 395.09L1944.9 397.08L1944.15 399.07L1943.48 401.07L1942.89 403.06L1942.36 405.05L1941.89 407.04L1941.47 409.03L1941.11 411.02L1940.8 413.02L1940.52 415.01L1940.29 417" fill="none" stroke="#000" stroke-width="3.6" stroke-linecap="round" stroke-linejoin="round"/>
</g>
<g>
<path d="M190.8 605.6V1032.08" fill="none" stroke="#141212" stroke-width="1.1"/>
<path d="M190.25 1031.5H739.3" fill="none" stroke="#141212" stroke-width="1.15"/>
<path d="M190.8 998.6h16.3M190.8 933.2h16.3M190.8 867.8h16.3M190.8 802.4h16.3M190.8 737h16.3M190.8 671.6h16.3M190.8 606.2h16.3M328.1 1031.5v-16M602.1 1031.5v-16" fill="none" stroke="#141212" stroke-width="1.1"/>
<text transform="translate(172.2 1007.3) scale(0.915 1)" font-size="29.6" text-anchor="end" stroke="#221e1f" stroke-width="0.45">0.8</text>
<text transform="translate(172.2 941.9) scale(0.915 1)" font-size="29.6" text-anchor="end" stroke="#221e1f" stroke-width="0.45">1.0</text>
<text transform="translate(172.2 876.5) scale(0.915 1)" font-size="29.6" text-anchor="end" stroke="#221e1f" stroke-width="0.45">1.2</text>
<text transform="translate(172.2 811.1) scale(0.915 1)" font-size="29.6" text-anchor="end" stroke="#221e1f" stroke-width="0.45">1.4</text>
<text transform="translate(172.2 745.7) scale(0.915 1)" font-size="29.6" text-anchor="end" stroke="#221e1f" stroke-width="0.45">1.6</text>
<text transform="translate(172.2 680.3) scale(0.915 1)" font-size="29.6" text-anchor="end" stroke="#221e1f" stroke-width="0.45">1.8</text>
<text transform="translate(172.2 614.9) scale(0.915 1)" font-size="29.6" text-anchor="end" stroke="#221e1f" stroke-width="0.45">2.0</text>
<text transform="translate(61 814.7) rotate(-90)" x="-66" y="12.28" font-size="31.8" letter-spacing="1.6">果形指数</text>
<text transform="translate(114.5 814.7) rotate(-90)" font-size="33.5" text-anchor="middle" stroke="#221e1f" stroke-width="0.3">Fruit shape index</text>
<text x="291.15" y="1070.47" font-size="31.8" letter-spacing="2.1">冬枣</text>
<text x="323.3" y="1111.9" font-size="33.5" text-anchor="middle" stroke="#221e1f" stroke-width="0.3">Dongzao</text>
<text x="577.65" y="1070.47" font-size="31.8" letter-spacing="2.1">雨虹</text>
<text x="610.8" y="1111.9" font-size="33.5" text-anchor="middle" stroke="#221e1f" stroke-width="0.3">Yuhong</text>
<path d="M273.1 829.3V900.4M273.1 953.5V993.6" stroke="#000" stroke-width="2.7" fill="none"/>
<path d="M252.35 829.3H293.65M252.35 993.6H293.65" stroke="#000" stroke-width="2.7" stroke-linecap="round" fill="none"/>
<rect x="231.55" y="901.75" width="82.8" height="50.4" fill="#4797C8" stroke="#000" stroke-width="2.7" stroke-linejoin="round"/>
<path d="M231.55 928.7H314.35" stroke="#000" stroke-width="2.7"/>
<rect x="268.4" y="918.3" width="9" height="9" fill="none" stroke="#000" stroke-width="1.15" stroke-linejoin="round"/>
<path d="M547.2 715.3V763.2M547.2 836.7V910.8" stroke="#000" stroke-width="2.7" fill="none"/>
<path d="M526.35 715.3H567.65M526.35 910.8H567.65" stroke="#000" stroke-width="2.7" stroke-linecap="round" fill="none"/>
<rect x="505.75" y="764.55" width="83.1" height="70.8" fill="#689B9A" stroke="#000" stroke-width="2.7" stroke-linejoin="round"/>
<path d="M505.75 805.8H588.85" stroke="#000" stroke-width="2.7"/>
<rect x="542.5" y="794.3" width="9" height="9" fill="none" stroke="#000" stroke-width="1.15" stroke-linejoin="round"/>
<g fill="#30688C"><circle cx="332.8" cy="809.8" r="5.55"/><circle cx="337.7" cy="823.2" r="5.55"/><circle cx="329.9" cy="829" r="5.55"/><circle cx="330.1" cy="850.4" r="5.55"/><circle cx="337.7" cy="852.5" r="5.55"/><circle cx="333.1" cy="863.1" r="5.55"/><circle cx="340.7" cy="865.7" r="5.55"/><circle cx="345.4" cy="868.4" r="5.55"/><circle cx="333.1" cy="874.7" r="5.55"/><circle cx="330.1" cy="884.2" r="5.55"/><circle cx="340.2" cy="884.2" r="5.55"/><circle cx="337.7" cy="890.1" r="5.55"/><circle cx="350.5" cy="887.4" r="5.55"/><circle cx="342.8" cy="899.3" r="5.55"/><circle cx="348.1" cy="899.8" r="5.55"/><circle cx="355.5" cy="901.9" r="5.55"/><circle cx="362.9" cy="909.9" r="5.55"/><circle cx="378.3" cy="899.8" r="5.55"/><circle cx="388.3" cy="903.5" r="5.55"/><circle cx="391" cy="910.9" r="5.55"/><circle cx="373.5" cy="912.5" r="5.55"/><circle cx="383" cy="911.5" r="5.55"/><circle cx="377.7" cy="915.7" r="5.55"/><circle cx="383" cy="917.8" r="5.55"/><circle cx="340.2" cy="910.9" r="5.55"/><circle cx="332.8" cy="916.2" r="5.55"/><circle cx="350.2" cy="913" r="5.55"/><circle cx="345.4" cy="917.8" r="5.55"/><circle cx="337.5" cy="921" r="5.55"/><circle cx="352.9" cy="922" r="5.55"/><circle cx="330.1" cy="928.9" r="5.55"/><circle cx="335.4" cy="927.3" r="5.55"/><circle cx="342.8" cy="926.3" r="5.55"/><circle cx="348.1" cy="927.3" r="5.55"/><circle cx="330.1" cy="934.2" r="5.55"/><circle cx="358.1" cy="929.4" r="5.55"/><circle cx="367.7" cy="926.8" r="5.55"/><circle cx="370.3" cy="932.6" r="5.55"/><circle cx="362.9" cy="934.7" r="5.55"/><circle cx="352.9" cy="940" r="5.55"/><circle cx="358.1" cy="943.2" r="5.55"/><circle cx="365.6" cy="942.1" r="5.55"/><circle cx="370.3" cy="949.6" r="5.55"/><circle cx="377.7" cy="945.3" r="5.55"/><circle cx="383" cy="946.4" r="5.55"/><circle cx="370.3" cy="954.8" r="5.55"/><circle cx="345.4" cy="949" r="5.55"/><circle cx="350.2" cy="947.4" r="5.55"/><circle cx="337.7" cy="954.3" r="5.55"/><circle cx="342.8" cy="957" r="5.55"/><circle cx="332.8" cy="960.7" r="5.55"/><circle cx="337.7" cy="965.4" r="5.55"/><circle cx="355.3" cy="964.4" r="5.55"/><circle cx="335.4" cy="971.2" r="5.55"/><circle cx="330.1" cy="978.1" r="5.55"/><circle cx="342.8" cy="981.8" r="5.55"/><circle cx="352.9" cy="977.1" r="5.55"/><circle cx="350.2" cy="988.2" r="5.55"/><circle cx="340.2" cy="992.9" r="5.55"/><circle cx="347.6" cy="994" r="5.55"/><circle cx="359.2" cy="905.8" r="5.55"/></g>
<path d="M330.29 786L330.34 787.99L330.4 789.98L330.46 791.96L330.53 793.95L330.62 795.94L330.71 797.93L330.82 799.91L330.95 801.9L331.09 803.89L331.24 805.88L331.42 807.87L331.62 809.85L331.84 811.84L332.09 813.83L332.36 815.82L332.67 817.81L333 819.79L333.38 821.78L333.79 823.77L334.24 825.76L334.73 827.74L335.27 829.73L335.85 831.72L336.49 833.71L337.18 835.7L337.92 837.68L338.72 839.67L339.58 841.66L340.5 843.65L341.48 845.64L342.53 847.62L343.64 849.61L344.81 851.6L346.05 853.59L347.35 855.57L348.72 857.56L350.15 859.55L351.63 861.54L353.17 863.53L354.77 865.51L356.42 867.5L358.11 869.49L359.84 871.48L361.6 873.47L363.39 875.45L365.21 877.44L367.04 879.43L368.87 881.42L370.7 883.4L372.52 885.39L374.32 887.38L376.1 889.37L377.83 891.36L379.52 893.34L381.14 895.33L382.7 897.32L384.19 899.31L385.59 901.3L386.89 903.28L388.1 905.27L389.19 907.26L390.17 909.25L391.02 911.23L391.75 913.22L392.34 915.21L392.79 917.2L393.1 919.19L393.27 921.17L393.29 923.16L393.17 925.15L392.91 927.14L392.5 929.13L391.96 931.11L391.28 933.1L390.47 935.09L389.53 937.08L388.48 939.06L387.31 941.05L386.04 943.04L384.67 945.03L383.21 947.02L381.67 949L380.07 950.99L378.4 952.98L376.68 954.97L374.92 956.96L373.13 958.94L371.31 960.93L369.48 962.92L367.65 964.91L365.82 966.89L364 968.88L362.2 970.87L360.42 972.86L358.68 974.85L356.98 976.83L355.31 978.82L353.7 980.81L352.14 982.8L350.64 984.79L349.19 986.77L347.8 988.76L346.48 990.75L345.22 992.74L344.02 994.72L342.89 996.71L341.83 998.7" fill="none" stroke="#000" stroke-width="3.6" stroke-linecap="round" stroke-linejoin="round"/>
<g fill="#234B24"><circle cx="603.6" cy="626.5" r="5.55"/><circle cx="614.7" cy="717.5" r="5.55"/><circle cx="620" cy="714.4" r="5.55"/><circle cx="604.1" cy="734.5" r="5.55"/><circle cx="609.4" cy="731.3" r="5.55"/><circle cx="625.3" cy="732" r="5.55"/><circle cx="614.7" cy="745.5" r="5.55"/><circle cx="620" cy="757.8" r="5.55"/><circle cx="604.1" cy="764.2" r="5.55"/><circle cx="609.4" cy="765.2" r="5.55"/><circle cx="604.1" cy="777.3" r="5.55"/><circle cx="625.3" cy="781.5" r="5.55"/><circle cx="620" cy="791.7" r="5.55"/><circle cx="609.4" cy="794.9" r="5.55"/><circle cx="604.1" cy="803.3" r="5.55"/><circle cx="614.7" cy="801.9" r="5.55"/><circle cx="609.4" cy="806.1" r="5.55"/><circle cx="635.8" cy="805.5" r="5.55"/><circle cx="641.1" cy="811.8" r="5.55"/><circle cx="646.4" cy="817.1" r="5.55"/><circle cx="651.7" cy="811.8" r="5.55"/><circle cx="657" cy="807.6" r="5.55"/><circle cx="661.7" cy="812.9" r="5.55"/><circle cx="620" cy="812.9" r="5.55"/><circle cx="625.3" cy="817.1" r="5.55"/><circle cx="630.6" cy="830.9" r="5.55"/><circle cx="604.1" cy="839.8" r="5.55"/><circle cx="620" cy="846.1" r="5.55"/><circle cx="625.3" cy="848.9" r="5.55"/><circle cx="630.6" cy="847.8" r="5.55"/><circle cx="614.7" cy="852.7" r="5.55"/><circle cx="609.4" cy="857.4" r="5.55"/><circle cx="604.1" cy="868" r="5.55"/><circle cx="604.1" cy="902.9" r="5.55"/><circle cx="609.4" cy="910.8" r="5.55"/></g>
<path d="M604.33 616.6L604.37 618.59L604.41 620.58L604.46 622.57L604.51 624.57L604.57 626.56L604.63 628.55L604.7 630.54L604.78 632.53L604.87 634.52L604.96 636.51L605.06 638.5L605.18 640.5L605.3 642.49L605.43 644.48L605.58 646.47L605.73 648.46L605.91 650.45L606.09 652.44L606.29 654.43L606.51 656.43L606.74 658.42L606.99 660.41L607.26 662.4L607.55 664.39L607.86 666.38L608.2 668.37L608.55 670.36L608.93 672.36L609.34 674.35L609.77 676.34L610.23 678.33L610.72 680.32L611.23 682.31L611.78 684.3L612.35 686.29L612.96 688.29L613.6 690.28L614.28 692.27L614.99 694.26L615.73 696.25L616.5 698.24L617.31 700.23L618.16 702.22L619.04 704.22L619.96 706.21L620.91 708.2L621.89 710.19L622.91 712.18L623.97 714.17L625.05 716.16L626.17 718.15L627.32 720.15L628.49 722.14L629.69 724.13L630.92 726.12L632.17 728.11L633.45 730.1L634.74 732.09L636.05 734.08L637.38 736.08L638.71 738.07L640.06 740.06L641.41 742.05L642.76 744.04L644.11 746.03L645.46 748.02L646.8 750.01L648.13 752.01L649.44 754L650.73 755.99L652.01 757.98L653.25 759.97L654.46 761.96L655.64 763.95L656.79 765.94L657.88 767.94L658.94 769.93L659.94 771.92L660.9 773.91L661.8 775.9L662.63 777.89L663.41 779.88L664.13 781.87L664.77 783.87L665.35 785.86L665.85 787.85L666.28 789.84L666.64 791.83L666.92 793.82L667.13 795.81L667.25 797.8L667.3 799.8L667.27 801.79L667.16 803.78L666.97 805.77L666.71 807.76L666.36 809.75L665.95 811.74L665.46 813.73L664.9 815.73L664.26 817.72L663.56 819.71L662.8 821.7L661.97 823.69L661.09 825.68L660.14 827.67L659.15 829.66L658.11 831.66L657.01 833.65L655.88 835.64L654.71 837.63L653.5 839.62L652.26 841.61L651 843.6L649.71 845.59L648.4 847.59L647.07 849.58L645.74 851.57L644.39 853.56L643.04 855.55L641.69 857.54L640.33 859.53L638.99 861.52L637.65 863.52L636.32 865.51L635.01 867.5L633.71 869.49L632.43 871.48L631.18 873.47L629.94 875.46L628.74 877.45L627.55 879.45L626.4 881.44L625.28 883.43L624.19 885.42L623.13 887.41L622.1 889.4L621.11 891.39L620.15 893.38L619.23 895.38L618.34 897.37L617.49 899.36L616.67 901.35L615.88 903.34L615.14 905.33L614.42 907.32L613.74 909.31L613.09 911.31L612.48 913.3L611.89 915.29L611.34 917.28L610.82 919.27L610.33 921.26L609.86 923.25L609.42 925.24L609.01 927.24L608.63 929.23L608.27 931.22L607.93 933.21L607.61 935.2L607.32 937.19L607.05 939.18L606.79 941.17L606.55 943.17L606.33 945.16L606.13 947.15L605.94 949.14L605.77 951.13L605.61 953.12L605.46 955.11L605.33 957.1L605.2 959.1L605.09 961.09L604.98 963.08L604.89 965.07L604.8 967.06L604.72 969.05L604.65 971.04L604.58 973.03L604.52 975.03L604.47 977.02L604.42 979.01L604.37 981" fill="none" stroke="#000" stroke-width="3.6" stroke-linecap="round" stroke-linejoin="round"/>
</g>
<g>
<path d="M875.4 605.6V1031.98" fill="none" stroke="#141212" stroke-width="1.1"/>
<path d="M874.85 1031.4H1424.6" fill="none" stroke="#141212" stroke-width="1.15"/>
<path d="M875.4 1006.2h16.3M875.4 956.2h16.3M875.4 906.2h16.3M875.4 856.2h16.3M875.4 806.2h16.3M875.4 756.2h16.3M875.4 706.2h16.3M875.4 656.2h16.3M875.4 606.2h16.3M1013 1031.4v-16M1287 1031.4v-16" fill="none" stroke="#141212" stroke-width="1.1"/>
<text transform="translate(856.8 1014.9) scale(0.915 1)" font-size="29.6" text-anchor="end" stroke="#221e1f" stroke-width="0.45">86</text>
<text transform="translate(856.8 964.9) scale(0.915 1)" font-size="29.6" text-anchor="end" stroke="#221e1f" stroke-width="0.45">88</text>
<text transform="translate(856.8 914.9) scale(0.915 1)" font-size="29.6" text-anchor="end" stroke="#221e1f" stroke-width="0.45">90</text>
<text transform="translate(856.8 864.9) scale(0.915 1)" font-size="29.6" text-anchor="end" stroke="#221e1f" stroke-width="0.45">92</text>
<text transform="translate(856.8 814.9) scale(0.915 1)" font-size="29.6" text-anchor="end" stroke="#221e1f" stroke-width="0.45">94</text>
<text transform="translate(856.8 764.9) scale(0.915 1)" font-size="29.6" text-anchor="end" stroke="#221e1f" stroke-width="0.45">96</text>
<text transform="translate(856.8 714.9) scale(0.915 1)" font-size="29.6" text-anchor="end" stroke="#221e1f" stroke-width="0.45">98</text>
<text transform="translate(856.8 664.9) scale(0.915 1)" font-size="29.6" text-anchor="end" stroke="#221e1f" stroke-width="0.45">100</text>
<text transform="translate(856.8 614.9) scale(0.915 1)" font-size="29.6" text-anchor="end" stroke="#221e1f" stroke-width="0.45">102</text>
<text transform="translate(736.7 837.9) rotate(-90)" x="-49.3" y="12.28" font-size="31.8" letter-spacing="1.6">可食率</text>
<text transform="translate(790.1 838.5) rotate(-90)" font-size="33.5" text-anchor="middle" stroke="#221e1f" stroke-width="0.3">Edible rate/%</text>
<text x="969.75" y="1072.67" font-size="31.8" letter-spacing="2.1">冬枣</text>
<text x="1002.1" y="1114.6" font-size="33.5" text-anchor="middle" stroke="#221e1f" stroke-width="0.3">Dongzao</text>
<text x="1256.25" y="1072.67" font-size="31.8" letter-spacing="2.1">雨虹</text>
<text x="1288.6" y="1114.6" font-size="33.5" text-anchor="middle" stroke="#221e1f" stroke-width="0.3">Yuhong</text>
<path d="M957.7 686.3V706.6M957.7 742.7V787.5" stroke="#000" stroke-width="2.7" fill="none"/>
<path d="M937.25 686.3H978.65M937.25 787.5H978.65" stroke="#000" stroke-width="2.7" stroke-linecap="round" fill="none"/>
<rect x="916.25" y="707.95" width="83.2" height="33.4" fill="#4797C8" stroke="#000" stroke-width="2.7" stroke-linejoin="round"/>
<path d="M916.25 723.1H999.45" stroke="#000" stroke-width="2.7"/>
<rect x="953.2" y="729.45" width="9" height="9" fill="none" stroke="#000" stroke-width="1.15" stroke-linejoin="round"/>
<path d="M1232 694.3V711.9M1232 749.7V789" stroke="#000" stroke-width="2.7" fill="none"/>
<path d="M1211.55 694.3H1252.85M1211.55 789H1252.85" stroke="#000" stroke-width="2.7" stroke-linecap="round" fill="none"/>
<rect x="1190.45" y="713.25" width="83.2" height="35.1" fill="#689B9A" stroke="#000" stroke-width="2.7" stroke-linejoin="round"/>
<path d="M1190.45 729.3H1273.65" stroke="#000" stroke-width="2.7"/>
<rect x="1227.4" y="733.2" width="9" height="9" fill="none" stroke="#000" stroke-width="1.15" stroke-linejoin="round"/>
<g fill="#30688C"><circle cx="1014.9" cy="697.5" r="5.55"/><circle cx="1018.3" cy="690.6" r="5.55"/><circle cx="1029" cy="690.4" r="5.55"/><circle cx="1036.7" cy="685.5" r="5.55"/><circle cx="1022.9" cy="698.7" r="5.55"/><circle cx="1037.8" cy="697.5" r="5.55"/><circle cx="1033.3" cy="702.1" r="5.55"/><circle cx="1020.6" cy="706.7" r="5.55"/><circle cx="1028.7" cy="706.7" r="5.55"/><circle cx="1043.6" cy="707.3" r="5.55"/><circle cx="1053.9" cy="709" r="5.55"/><circle cx="1014.9" cy="718.7" r="5.55"/><circle cx="1018.3" cy="713.6" r="5.55"/><circle cx="1034.4" cy="714.7" r="5.55"/><circle cx="1048.2" cy="715.9" r="5.55"/><circle cx="1061.9" cy="714.7" r="5.55"/><circle cx="1067.7" cy="714.2" r="5.55"/><circle cx="1073.4" cy="715.3" r="5.55"/><circle cx="1076.3" cy="719.9" r="5.55"/><circle cx="1025.2" cy="723.9" r="5.55"/><circle cx="1031" cy="720.5" r="5.55"/><circle cx="1039" cy="723.9" r="5.55"/><circle cx="1029.8" cy="729.6" r="5.55"/><circle cx="1036.7" cy="729.6" r="5.55"/><circle cx="1044.2" cy="729.6" r="5.55"/><circle cx="1055" cy="724.2" r="5.55"/><circle cx="1057.3" cy="726.5" r="5.55"/><circle cx="1063.1" cy="728.3" r="5.55"/><circle cx="1070" cy="725.4" r="5.55"/><circle cx="1039" cy="734.2" r="5.55"/><circle cx="1032.1" cy="737.7" r="5.55"/><circle cx="1020.6" cy="738.8" r="5.55"/><circle cx="1025.8" cy="744.5" r="5.55"/><circle cx="1014.9" cy="746.3" r="5.55"/><circle cx="1035" cy="752.6" r="5.55"/><circle cx="1044.2" cy="750.8" r="5.55"/><circle cx="1041.9" cy="756" r="5.55"/><circle cx="1020.6" cy="764" r="5.55"/><circle cx="1016.1" cy="774.9" r="5.55"/><circle cx="1018.3" cy="778.9" r="5.55"/><circle cx="1014.9" cy="787" r="5.55"/><circle cx="1016" cy="857.9" r="5.55"/><circle cx="1015.3" cy="889.2" r="5.55"/><circle cx="1014.5" cy="990.3" r="5.55"/><circle cx="1037.8" cy="704.6" r="5.55"/><circle cx="1026.4" cy="715.9" r="5.55"/><circle cx="1049.3" cy="722.3" r="5.55"/><circle cx="1020.6" cy="727.3" r="5.55"/><circle cx="1024.5" cy="733" r="5.55"/><circle cx="1043" cy="712" r="5.55"/><circle cx="1033.5" cy="724.5" r="5.55"/><circle cx="1026" cy="701.5" r="5.55"/></g>
<path d="M1048.52 681L1050.19 683L1051.87 684.99L1053.56 686.99L1055.25 688.98L1056.94 690.98L1058.61 692.97L1060.26 694.97L1061.88 696.96L1063.47 698.96L1065.01 700.95L1066.5 702.95L1067.94 704.94L1069.31 706.94L1070.62 708.93L1071.84 710.93L1072.98 712.92L1074.02 714.92L1074.98 716.91L1075.82 718.91L1076.57 720.9L1077.2 722.9L1077.72 724.89L1078.12 726.89L1078.4 728.88L1078.56 730.88L1078.6 732.87L1078.51 734.87L1078.31 736.86L1077.98 738.86L1077.54 740.85L1076.98 742.85L1076.3 744.84L1075.52 746.84L1074.63 748.83L1073.64 750.83L1072.56 752.83L1071.39 754.82L1070.14 756.82L1068.81 758.81L1067.41 760.81L1065.95 762.8L1064.44 764.8L1062.88 766.79L1061.28 768.79L1059.64 770.78L1057.98 772.78L1056.31 774.77L1054.62 776.77L1052.93 778.76L1051.24 780.76L1049.56 782.75L1047.89 784.75L1046.25 786.74L1044.63 788.74L1043.04 790.73L1041.48 792.73L1039.97 794.72L1038.49 796.72L1037.06 798.71L1035.68 800.71L1034.34 802.7L1033.06 804.7L1031.83 806.69L1030.65 808.69L1029.53 810.68L1028.46 812.68L1027.45 814.67L1026.49 816.67L1025.59 818.67L1024.73 820.66L1023.93 822.66L1023.18 824.65L1022.48 826.65L1021.82 828.64L1021.21 830.64L1020.65 832.63L1020.12 834.63L1019.64 836.62L1019.19 838.62L1018.78 840.61L1018.4 842.61L1018.06 844.6L1017.74 846.6L1017.45 848.59L1017.19 850.59L1016.95 852.58L1016.74 854.58L1016.54 856.57L1016.37 858.57L1016.21 860.56L1016.07 862.56L1015.94 864.55L1015.83 866.55L1015.73 868.54L1015.64 870.54L1015.56 872.53L1015.49 874.53L1015.42 876.52L1015.37 878.52L1015.32 880.51L1015.28 882.51L1015.24 884.5L1015.21 886.5" fill="none" stroke="#000" stroke-width="3.6" stroke-linecap="round" stroke-linejoin="round"/>
<g fill="#234B24"><circle cx="1289.2" cy="694.1" r="5.55"/><circle cx="1293.5" cy="701.5" r="5.55"/><circle cx="1301.5" cy="698.5" r="5.55"/><circle cx="1305.2" cy="704" r="5.55"/><circle cx="1301.5" cy="711.4" r="5.55"/><circle cx="1297.2" cy="717" r="5.55"/><circle cx="1326.2" cy="708.3" r="5.55"/><circle cx="1331.2" cy="712.7" r="5.55"/><circle cx="1347.8" cy="707.3" r="5.55"/><circle cx="1343.5" cy="714.5" r="5.55"/><circle cx="1336.7" cy="712" r="5.55"/><circle cx="1322.5" cy="715.7" r="5.55"/><circle cx="1318.2" cy="720.1" r="5.55"/><circle cx="1313.9" cy="724.4" r="5.55"/><circle cx="1305.9" cy="726.9" r="5.55"/><circle cx="1310.2" cy="729.3" r="5.55"/><circle cx="1289.2" cy="729.3" r="5.55"/><circle cx="1293.5" cy="728.7" r="5.55"/><circle cx="1297.2" cy="735.5" r="5.55"/><circle cx="1293.5" cy="739.2" r="5.55"/><circle cx="1289.2" cy="742.3" r="5.55"/><circle cx="1339.2" cy="728.1" r="5.55"/><circle cx="1322.5" cy="734.3" r="5.55"/><circle cx="1313.9" cy="739.2" r="5.55"/><circle cx="1318.2" cy="747.2" r="5.55"/><circle cx="1301.5" cy="747.8" r="5.55"/><circle cx="1305.9" cy="747.2" r="5.55"/><circle cx="1310.2" cy="749.7" r="5.55"/><circle cx="1293.5" cy="760.2" r="5.55"/><circle cx="1297.2" cy="759" r="5.55"/><circle cx="1301.5" cy="760.8" r="5.55"/><circle cx="1289.2" cy="771" r="5.55"/><circle cx="1293.5" cy="788.3" r="5.55"/><circle cx="1289.2" cy="805.5" r="5.55"/><circle cx="1289.4" cy="931.6" r="5.55"/></g>
<path d="M1314.95 681L1316.61 682.99L1318.31 684.98L1320.05 686.98L1321.82 688.97L1323.61 690.96L1325.42 692.95L1327.24 694.94L1329.07 696.93L1330.88 698.93L1332.69 700.92L1334.46 702.91L1336.21 704.9L1337.91 706.89L1339.57 708.88L1341.16 710.88L1342.68 712.87L1344.13 714.86L1345.48 716.85L1346.74 718.84L1347.9 720.84L1348.95 722.83L1349.87 724.82L1350.68 726.81L1351.35 728.8L1351.9 730.79L1352.3 732.79L1352.57 734.78L1352.69 736.77L1352.67 738.76L1352.51 740.75L1352.21 742.74L1351.77 744.74L1351.19 746.73L1350.48 748.72L1349.64 750.71L1348.68 752.7L1347.6 754.69L1346.42 756.69L1345.13 758.68L1343.75 760.67L1342.28 762.66L1340.74 764.65L1339.13 766.65L1337.47 768.64L1335.75 770.63L1333.99 772.62L1332.21 774.61L1330.4 776.6L1328.58 778.6L1326.76 780.59L1324.94 782.58L1323.13 784.57L1321.35 786.56L1319.58 788.55L1317.86 790.55L1316.17 792.54L1314.52 794.53L1312.92 796.52L1311.37 798.51L1309.88 800.51L1308.44 802.5L1307.07 804.49L1305.76 806.48L1304.51 808.47L1303.32 810.46L1302.2 812.46L1301.14 814.45L1300.14 816.44L1299.2 818.43L1298.33 820.42L1297.51 822.41L1296.75 824.41L1296.05 826.4L1295.4 828.39L1294.8 830.38L1294.24 832.37L1293.74 834.36L1293.27 836.36L1292.85 838.35L1292.46 840.34L1292.11 842.33L1291.8 844.32L1291.51 846.32L1291.25 848.31L1291.02 850.3L1290.81 852.29L1290.63 854.28L1290.46 856.27L1290.32 858.27L1290.19 860.26L1290.07 862.25L1289.97 864.24L1289.88 866.23L1289.8 868.22L1289.73 870.22L1289.67 872.21L1289.62 874.2" fill="none" stroke="#000" stroke-width="3.6" stroke-linecap="round" stroke-linejoin="round"/>
</g>
</svg></body></html>
